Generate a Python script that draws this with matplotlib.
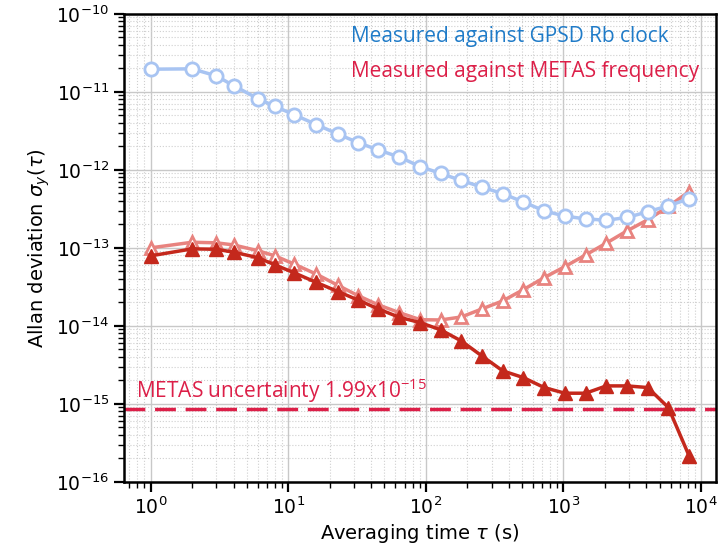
import matplotlib
matplotlib.use("Agg")
import matplotlib.pyplot as plt

# averaging times (s)
tau = [1, 2, 3, 4, 6, 8, 11, 16, 23, 32, 45, 64, 91, 128, 181, 256,
       362, 512, 724, 1024, 1448, 2048, 2896, 4096, 5793, 8192]

# Allan deviation vs GPSD Rb clock
adev_gpsd = [1.95e-11, 1.97e-11, 1.6e-11, 1.2e-11, 8.2e-12, 6.5e-12, 5.1e-12,
             3.8e-12, 2.87e-12, 2.24e-12, 1.8e-12, 1.46e-12, 1.1e-12, 9.0e-13,
             7.3e-13, 6.0e-13, 4.95e-13, 3.87e-13, 2.98e-13, 2.55e-13,
             2.35e-13, 2.26e-13, 2.45e-13, 2.9e-13, 3.46e-13, 4.26e-13]

# raw vs METAS (open triangles)
adev_metas_raw = [1.0e-13, 1.18e-13, 1.16e-13, 1.09e-13, 9.2e-14, 7.9e-14,
                  6.2e-14, 4.6e-14, 3.3e-14, 2.45e-14, 1.86e-14, 1.48e-14,
                  1.2e-14, 1.19e-14, 1.3e-14, 1.65e-14, 2.09e-14, 2.92e-14,
                  4.15e-14, 5.75e-14, 8.1e-14, 1.15e-13, 1.65e-13, 2.29e-13,
                  3.39e-13, 5.27e-13]

# drift-removed vs METAS (filled triangles)
adev_metas = [7.9e-14, 9.7e-14, 9.6e-14, 8.8e-14, 7.5e-14, 6.05e-14, 4.8e-14,
              3.6e-14, 2.75e-14, 2.15e-14, 1.65e-14, 1.29e-14, 1.1e-14,
              8.9e-15, 6.4e-15, 4.1e-15, 2.65e-15, 2.17e-15, 1.62e-15,
              1.37e-15, 1.37e-15, 1.7e-15, 1.7e-15, 1.62e-15, 8.97e-16,
              2.15e-16]

metas_uncertainty = 8.7e-16

BLUE_LINE = "#a8c4f2"
BLUE_TEXT = "#1f7bc8"
RED_LIGHT = "#e8837f"
RED_DARK = "#c4281c"
CRIMSON = "#dc1f48"

fig = plt.figure(figsize=(7.24, 5.52), dpi=100)
ax = fig.add_axes([0.171, 0.127, 0.818, 0.848])

ax.plot(tau, adev_metas_raw, "-^", color=RED_LIGHT, lw=2.5, ms=9,
        mfc="white", mec=RED_LIGHT, mew=2, zorder=3)
ax.plot(tau, adev_metas, "-^", color=RED_DARK, lw=2.5, ms=10.5,
        mfc=RED_DARK, mec=RED_DARK, zorder=4)
ax.plot(tau, adev_gpsd, "-o", color=BLUE_LINE, lw=2.5, ms=9.5,
        mfc="white", mec=BLUE_LINE, mew=2, zorder=5)

ax.axhline(metas_uncertainty, color=CRIMSON, lw=2.5, ls=(0, (6, 2.8)), zorder=2)

ax.set_xscale("log")
ax.set_yscale("log")
ax.set_ylim(1e-16, 1e-10)

ax.grid(True, which="major", color="#c8c8c8", lw=1.0)
ax.grid(True, which="minor", color="#cfcfcf", lw=0.8, ls=":")
ax.set_axisbelow(True)

for s in ax.spines.values():
    s.set_linewidth(1.8)
    s.set_color("black")
ax.tick_params(which="major", direction="out", length=7, width=1.6,
               labelsize=13.5)
ax.tick_params(which="minor", direction="out", length=4, width=1.0)

ax.set_xlabel(r"Averaging time $\tau$ (s)", fontsize=14, labelpad=3)
ax.set_ylabel(r"Allan deviation $\sigma_y(\tau)$", fontsize=14, labelpad=3)

ann = ["Open Sans", "DejaVu Sans"]
ax.text(0.383, 0.951, "Measured against GPSD Rb clock", transform=ax.transAxes,
        color=BLUE_TEXT, fontsize=15, family=ann, va="center", ha="left")
ax.text(0.383, 0.876, "Measured against METAS frequency", transform=ax.transAxes,
        color=CRIMSON, fontsize=15, family=ann, va="center", ha="left")
ax.text(0.02, metas_uncertainty * 1.12,
        r"METAS uncertainty 1.99x10$\mathregular{^{-15}}$",
        transform=ax.get_yaxis_transform(), color=CRIMSON, fontsize=15,
        family=ann, va="bottom", ha="left")

fig.savefig("out.png", dpi=100)
